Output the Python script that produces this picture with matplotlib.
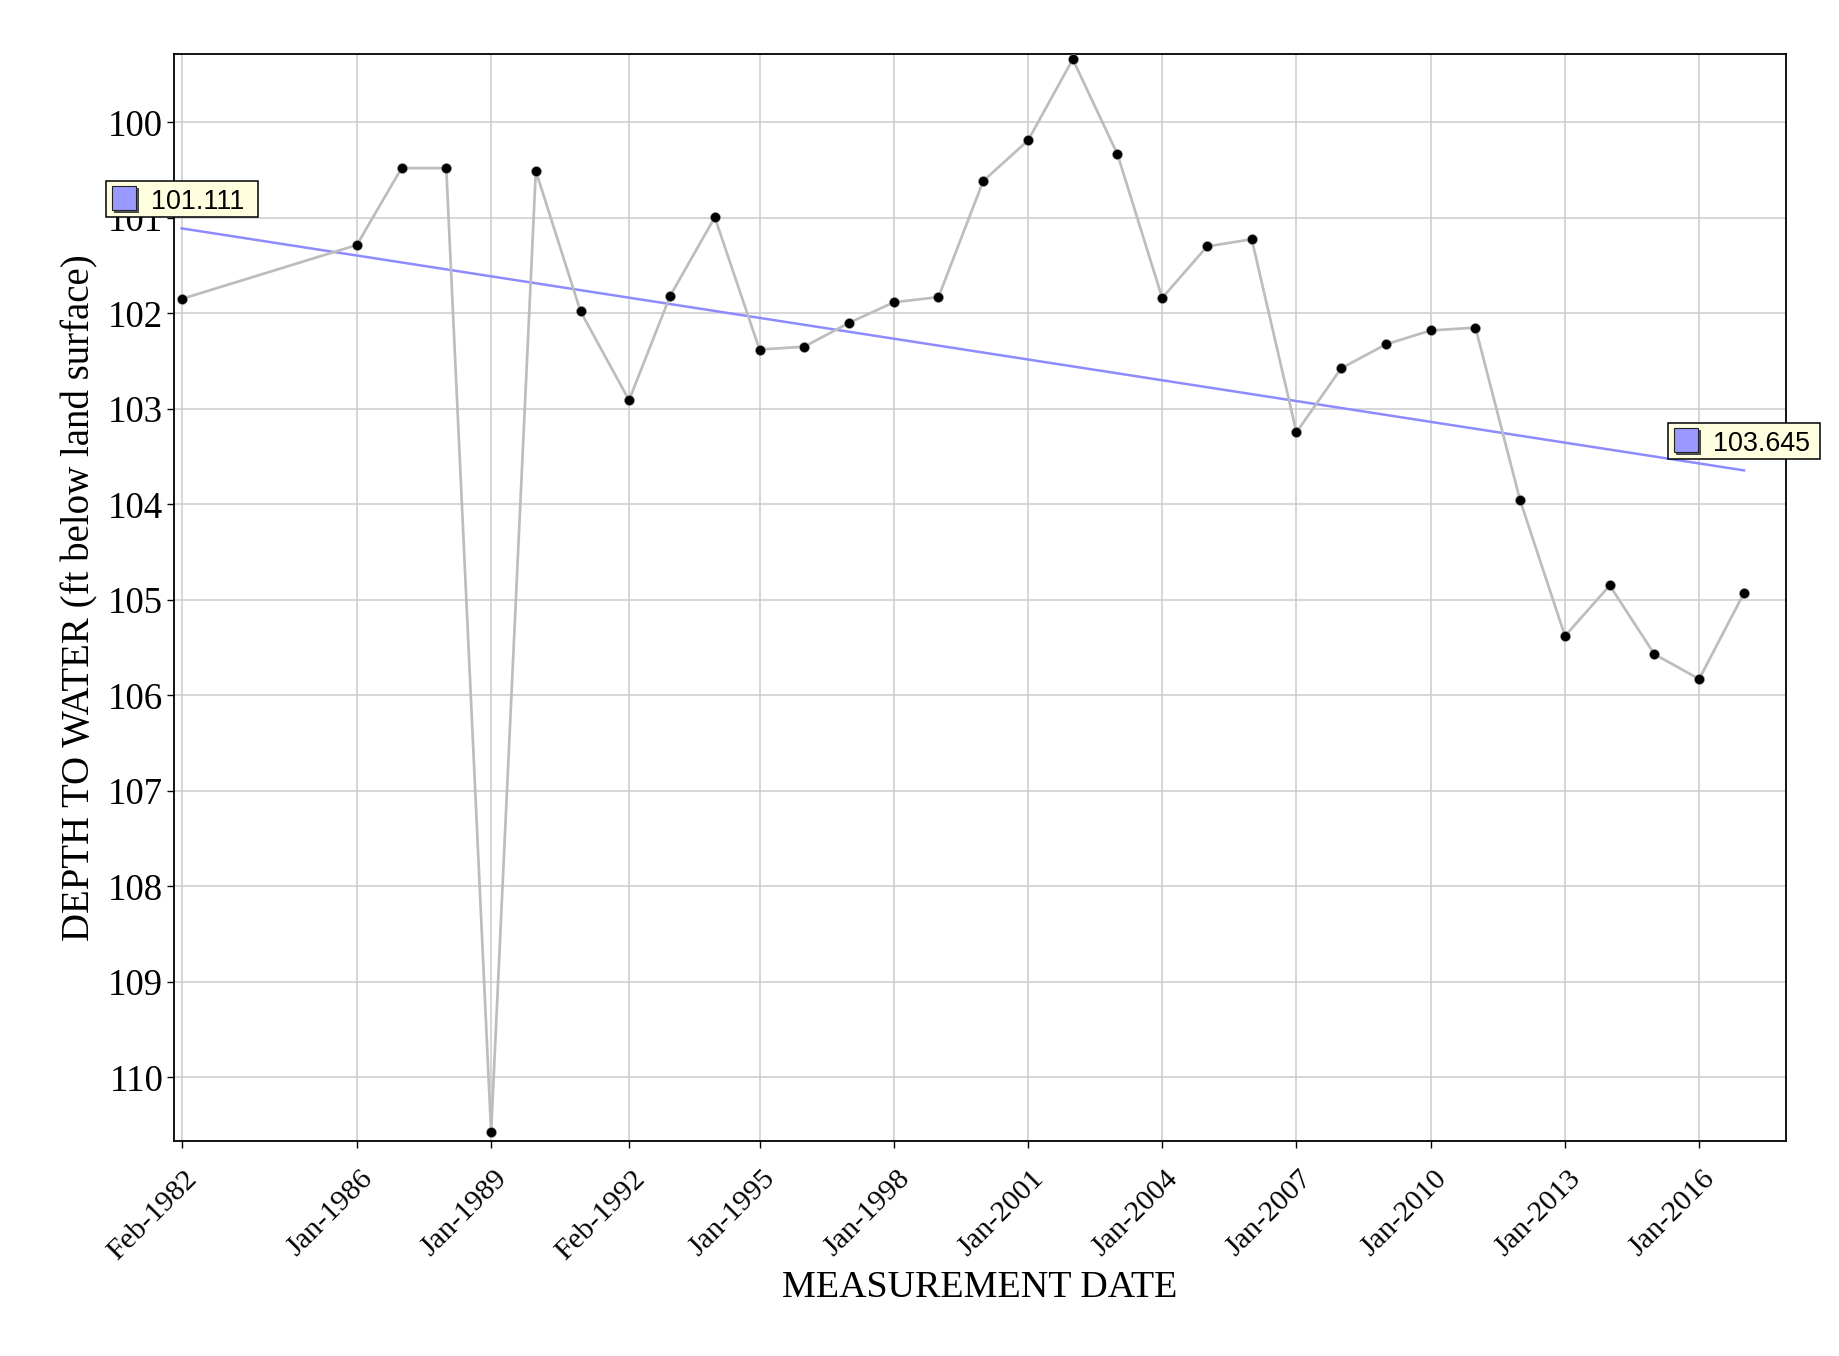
import matplotlib
matplotlib.use("Agg")
import numpy as np
import pandas as pd
import matplotlib.pyplot as plt
import matplotlib.dates as mdates
import matplotlib.transforms as mtransforms
from matplotlib.offsetbox import DrawingArea, AnnotationBbox
from matplotlib.patches import Rectangle
from matplotlib.text import Text

# measurements (depth to water, ft below land surface)
dates = pd.to_datetime(["1982-02-01", "1986-01-01", "1987-01-01", "1988-01-01", "1989-01-01",
                        "1990-01-01", "1991-01-01", "1992-02-01", "1993-01-01", "1994-01-01",
                        "1995-01-01", "1996-01-01", "1997-01-01", "1998-01-01", "1999-01-01",
                        "2000-01-01", "2001-01-01", "2002-01-01", "2003-01-01", "2004-01-01",
                        "2005-01-01", "2006-01-01", "2007-01-01", "2008-01-01", "2009-01-01",
                        "2010-01-01", "2011-01-01", "2012-01-01", "2013-01-01", "2014-01-01",
                        "2015-01-01", "2016-01-01", "2017-01-01"])
depth = [101.85, 101.285, 100.48, 100.48, 110.576,
         100.51, 101.98, 102.91, 101.82, 100.995,
         102.38, 102.35, 102.10, 101.885, 101.83,
         100.615, 100.19, 99.34, 100.335, 101.84,
         101.30, 101.225, 103.246, 102.576, 102.325,
         102.18, 102.15, 103.96, 105.38, 104.85,
         105.57, 105.83, 104.93]

# trend line end points
trend_dates = [dates[0], dates[-1]]
trend_vals = [101.111, 103.645]
trend_text = ["101.111", "103.645"]

tick_dates = pd.to_datetime(["1982-02-01", "1986-01-01", "1989-01-01", "1992-02-01", "1995-01-01",
                             "1998-01-01", "2001-01-01", "2004-01-01", "2007-01-01", "2010-01-01",
                             "2013-01-01", "2016-01-01"])
y_ticks = list(range(100, 111))

DPI = 100
PX = 72.0 / DPI  # points per pixel

fig = plt.figure(figsize=(18.39, 13.56), dpi=DPI)
ax = fig.add_axes([0.09478, 0.15878, 0.87640, 0.80140])

serif = "Liberation Serif"
sans = "Liberation Sans"

ax.plot(dates, depth, color="#bdbdbd", lw=1.95, zorder=3,
        marker="o", markersize=7.2, markerfacecolor="black",
        markeredgecolor="#999999", markeredgewidth=0.4)
ax.plot(trend_dates, trend_vals, color="#8c8cff", lw=1.8, zorder=2)

ax.set_xlim(pd.Timestamp("1981-12-03"), pd.Timestamp("2017-12-10"))
ax.set_ylim(110.664, 99.285)

ax.set_xticks(tick_dates)
ax.xaxis.set_major_formatter(mdates.DateFormatter("%b-%Y"))
ax.set_yticks(y_ticks)

ax.grid(True, color="#cccccc", lw=1.1, zorder=0)
ax.set_axisbelow(True)

for s in ax.spines.values():
    s.set_linewidth(1.3)
    s.set_color("black")

ax.tick_params(axis="y", direction="out", length=5, width=1, pad=3, labelsize=26.5)
ax.tick_params(axis="x", direction="out", length=5, width=1, pad=13, labelsize=21.5)
for lbl in ax.get_yticklabels():
    lbl.set_fontfamily(serif)
shift = mtransforms.ScaledTranslation(21 / DPI, 0, fig.dpi_scale_trans)
for lbl in ax.get_xticklabels():
    lbl.set_fontfamily(serif)
    lbl.set_rotation(45)
    lbl.set_ha("right")
    lbl.set_va("top")
    lbl.set_transform(lbl.get_transform() + shift)

ax.set_xlabel("MEASUREMENT DATE", fontsize=27.4, family=serif)
ax.xaxis.set_label_coords(0.5, -0.1436)
ax.xaxis.label.set_va("baseline")
ax.set_ylabel("DEPTH TO WATER (ft below land surface)", fontsize=28, family=serif)
ax.yaxis.set_label_coords(-0.0585, 0.5)
ax.yaxis.label.set_va("center")

# value labels at both ends of the trend line
bw, bh = 152, 36
for d, v, t in zip(trend_dates, trend_vals, trend_text):
    da = DrawingArea(bw * PX, bh * PX, clip=False)
    da.add_artist(Rectangle((0, 0), bw * PX, bh * PX, facecolor="#ffffe0",
                            edgecolor="black", lw=1.1))
    da.add_artist(Rectangle((8 * PX, 5 * PX), 24 * PX, 24 * PX, facecolor="#555555",
                            edgecolor="#333333", lw=0.6))
    da.add_artist(Rectangle((6 * PX, 7 * PX), 24 * PX, 24 * PX, facecolor="#9999ff",
                            edgecolor="#222222", lw=0.8))
    da.add_artist(Text(45 * PX, 7.4 * PX, t, fontsize=19.4, family=sans,
                       color="black", ha="left", va="baseline"))
    ab = AnnotationBbox(da, (d, v), xycoords="data", xybox=(0, 11.5 * PX),
                        boxcoords="offset points", box_alignment=(0.5, 0),
                        frameon=False, pad=0, annotation_clip=False)
    ab.set_zorder(10)
    ax.add_artist(ab)

fig.savefig("out.png", dpi=DPI)
